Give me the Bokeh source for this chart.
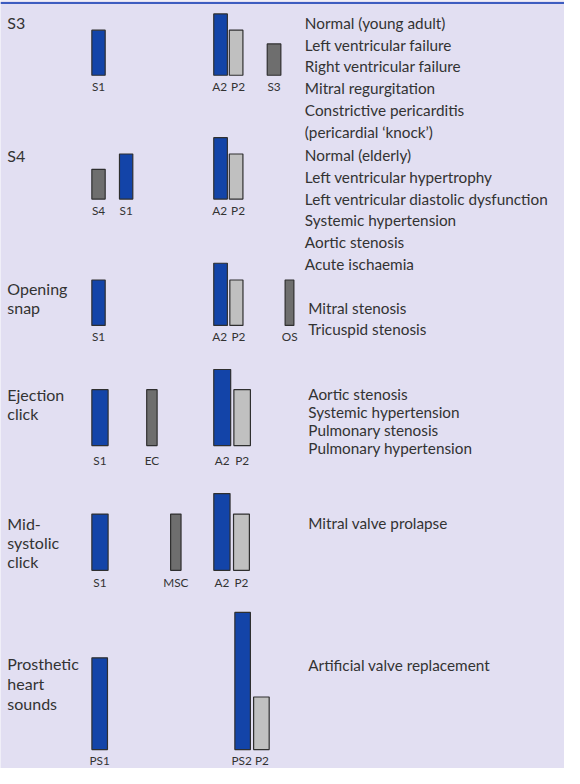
from bokeh.plotting import figure
from bokeh.models import ColumnDataSource, Range1d
from bokeh.core.properties import value
from bokeh.embed import file_html
from bokeh.resources import INLINE

# ---------------- data ----------------
panel_titles = [["S3"], ["S4"], ["Opening", "snap"], ["Ejection", "click"],
                ["Mid-", "systolic", "click"], ["Prosthetic", "heart", "sounds"]]

s3_sounds = ["S1", "A2", "P2", "S3"]
s3_time = [100.8, 226.3, 242.3, 281.3]
s3_intensity = [46, 62.6, 46, 32]

s4_sounds = ["S4", "S1", "A2", "P2"]
s4_time = [100.8, 129.2, 226.3, 242.3]
s4_intensity = [30.4, 46, 62.7, 46]

os_sounds = ["S1", "A2", "P2", "OS"]
os_time = [100.8, 226.3, 242.6, 297.2]
os_intensity = [46.4, 63.5, 46.4, 46.4]

ec_sounds = ["S1", "EC", "A2", "P2"]
ec_time = [102.3, 155.7, 228.0, 248.5]
ec_intensity = [57, 57, 77.6, 57]

msc_sounds = ["S1", "MSC", "A2", "P2"]
msc_time = [102.3, 180.3, 227.7, 247.8]
msc_intensity = [57.4, 57.4, 78.4, 57.4]

ps_sounds = ["PS1", "PS2", "P2"]
ps_time = [102.0, 249.0, 268.3]
ps_intensity = [93.7, 140, 53.7]

s3_causes = ["Normal (young adult)", "Left ventricular failure", "Right ventricular failure",
             "Mitral regurgitation", "Constrictive pericarditis", "(pericardial \u2018knock\u2019)"]
s4_causes = ["Normal (elderly)", "Left ventricular hypertrophy",
             "Left ventricular diastolic dysfunction", "Systemic hypertension",
             "Aortic stenosis", "Acute ischaemia"]
os_causes = ["Mitral stenosis", "Tricuspid stenosis"]
ec_causes = ["Aortic stenosis", "Systemic hypertension", "Pulmonary stenosis",
             "Pulmonary hypertension"]
msc_causes = ["Mitral valve prolapse"]
ps_causes = ["Artificial valve replacement"]

# ---------------- layout / style ----------------
BG = "#e2dff2"
BLUE = "#1344a8"
LIGHT = "#c0c0c0"
DARK = "#6e6e6e"
TEXT = "#333333"
FONT = "Lato"

panels = [
    dict(s=s3_sounds, t=s3_time, h=s3_intensity, w=[13.7, 14, 14, 14], base=76.3, lab=88.0,
         title_y=[22.3], causes=s3_causes, cy0=22.8, cdy=22.2),
    dict(s=s4_sounds, t=s4_time, h=s4_intensity, w=[13.7, 13.7, 14, 14], base=202.7, lab=214.7,
         title_y=[158.5], causes=s4_causes, cy0=157.8, cdy=22.2),
    dict(s=os_sounds, t=os_time, h=os_intensity, w=[13.7, 14, 13.5, 9], base=331.7, lab=342.7,
         title_y=[294, 313.3], causes=os_causes, cy0=313.8, cdy=21.7),
    dict(s=ec_sounds, t=ec_time, h=ec_intensity, w=[16.7, 10.7, 17.4, 17], base=454.3, lab=470.0,
         title_y=[402.3, 421.7], causes=ec_causes, cy0=401.5, cdy=18.6),
    dict(s=msc_sounds, t=msc_time, h=msc_intensity, w=[16.7, 10.7, 16.7, 16.3], base=581.7, lab=594.3,
         title_y=[534.3, 553.3, 572.8], causes=msc_causes, cy0=533.8, cdy=20),
    dict(s=ps_sounds, t=ps_time, h=ps_intensity, w=[16, 16, 16], base=764.7, lab=776.3,
         title_y=[677.3, 697.5, 717.7], causes=ps_causes, cy0=678.2, cdy=20),
]

def colour(name):
    if name in ("S1", "A2", "PS1", "PS2"):
        return BLUE
    if name == "P2":
        return LIGHT
    return DARK

bx, btop, bbot, bw, bc = [], [], [], [], []
lx, ly, lt = [], [], []
tx, ty, tt = [], [], []
cx, cy, ct = [], [], []

for i, pn in enumerate(panels):
    for name, t, h, w in zip(pn["s"], pn["t"], pn["h"], pn["w"]):
        bx.append(t)
        bbot.append(pn["base"])
        btop.append(pn["base"] - h)
        bw.append(w)
        bc.append(colour(name))
        lt.append(name)
        ly.append(pn["lab"])
        # narrow panels: nudge the A2 / P2 labels apart a little
        nudge = 0.0
        if i <= 2 and name == "A2":
            nudge = -1.0
        elif i <= 2 and name == "P2":
            nudge = 2.0
        elif i == 5 and name == "PS2":
            nudge = -1.0
        elif i == 5 and name == "P2":
            nudge = 0.5
        elif name == "OS":
            nudge = 0.3
        lx.append(t + nudge)
    for line, y in zip(panel_titles[i], pn["title_y"]):
        tx.append(7)
        ty.append(y)
        tt.append(line)
    for k, c in enumerate(pn["causes"]):
        cx.append(316.5 if i >= 2 else 313)
        cy.append(pn["cy0"] + k * pn["cdy"])
        ct.append(c)

p = figure(width=564, height=768, output_backend="svg", toolbar_location=None,
           x_range=Range1d(0, 580), y_range=Range1d(784, 0),
           min_border=0, min_border_left=0, min_border_right=0,
           min_border_top=0, min_border_bottom=0)
p.axis.visible = False
p.grid.visible = False
p.outline_line_color = None
p.background_fill_color = BG
p.border_fill_color = BG

# top rule
p.segment(x0=[0], y0=[2.5], x1=[580], y1=[2.5], line_color="#3d5cc0", line_width=2)

bars = ColumnDataSource(dict(x=bx, top=btop, bottom=bbot, w=bw, c=bc))
p.vbar(x="x", top="top", bottom="bottom", width="w", source=bars,
       fill_color="c", line_color="#2f2f2f", line_width=1.2)

p.text(x=lx, y=ly, text=lt, text_font=value(FONT), text_font_size="11.8px",
       text_color=TEXT, text_align="center", text_baseline="middle")
p.text(x=tx, y=ty, text=tt, text_font=value(FONT), text_font_size="16px",
       text_color=TEXT, text_align="left", text_baseline="middle")
p.text(x=cx, y=cy, text=ct, text_font=value(FONT), text_font_size="15.3px",
       text_color=TEXT, text_align="left", text_baseline="middle")

open("out.html", "w").write(file_html(p, INLINE))
